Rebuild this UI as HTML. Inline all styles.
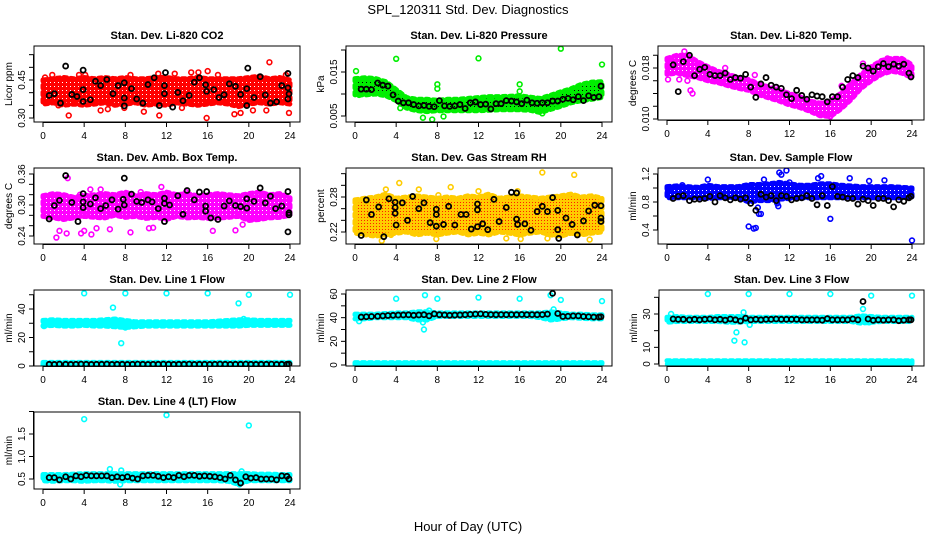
<!DOCTYPE html>
<html><head><meta charset="utf-8"><title>SPL_120311 Std. Dev. Diagnostics</title>
<style>
html,body{margin:0;padding:0;background:#fff;}
svg{display:block;font-family:"Liberation Sans",Arial,sans-serif;}
</style></head>
<body>
<svg id="chart" width="936" height="540" viewBox="0 0 936 540" xmlns="http://www.w3.org/2000/svg">
<defs>
<pattern id="pat-red" width="4" height="4" patternUnits="userSpaceOnUse"><rect width="4" height="4" fill="#ff0000"/><rect x="2" y="2" width="1" height="1" fill="#fff"/></pattern>
<pattern id="pat-green" width="4" height="4" patternUnits="userSpaceOnUse"><rect width="4" height="4" fill="#00ee00"/><rect x="2" y="2" width="1" height="1" fill="#000"/></pattern>
<pattern id="pat-magenta" width="4" height="4" patternUnits="userSpaceOnUse"><rect width="4" height="4" fill="#ff00ff"/><rect x="2" y="2" width="1" height="1" fill="#fff"/></pattern>
<pattern id="pat-orange" width="3" height="3" patternUnits="userSpaceOnUse"><rect width="3" height="3" fill="#ffcc00"/><rect x="1" y="1" width="1" height="1" fill="#ff2000"/></pattern>
<pattern id="pat-blue" width="4" height="4" patternUnits="userSpaceOnUse"><rect width="4" height="4" fill="#0000ff"/><rect x="2" y="2" width="1" height="1" fill="#fff"/></pattern>
<pattern id="pat-cyan" width="4" height="4" patternUnits="userSpaceOnUse"><rect width="4" height="4" fill="#00ffff"/></pattern>
</defs>
<text x="468" y="14" font-size="13" text-anchor="middle">SPL_120311  Std. Dev. Diagnostics</text>
<text x="468" y="531" font-size="13" text-anchor="middle">Hour of Day (UTC)</text>
</svg>
<script>
// ---------- data ----------
const bandHours = [0,1,2,3,4,5,6,7,8,9,10,11,12,13,14,15,16,17,18,19,20,21,22,23,24];
const xTicks = [0,4,8,12,16,20,24];
const blackHours = [0.6,1.1,1.6,2.2,2.7,3.2,3.7,4.2,4.7,5.2,5.7,6.2,6.7,7.2,7.7,8.2,8.7,9.2,9.7,10.2,10.7,11.2,11.7,12.2,12.7,13.2,13.7,14.2,14.7,15.2,15.7,16.2,16.7,17.2,17.7,18.2,18.7,19.2,19.7,20.2,20.7,21.2,21.7,22.2,22.7,23.2,23.7,23.9];

// CO2
const co2Lo = [0.355,0.36,0.35,0.355,0.35,0.355,0.36,0.35,0.355,0.36,0.35,0.355,0.35,0.36,0.355,0.35,0.355,0.36,0.355,0.345,0.355,0.36,0.355,0.36,0.355];
const co2Hi = [0.45,0.455,0.46,0.455,0.46,0.455,0.46,0.455,0.46,0.455,0.455,0.46,0.46,0.455,0.455,0.46,0.455,0.455,0.455,0.455,0.46,0.465,0.455,0.46,0.45];
const co2OutX = [0.2,0.9,2.5,3.5,4.1,5.6,6.3,7.9,9.8,11.3,11.2,12.8,14.4,15.1,15.9,16,17,19.2,18.6,20.4,21.7,22,23.9,23.6,1.5,8.5,13.5];
const co2OutY = [0.46,0.47,0.31,0.47,0.47,0.33,0.335,0.34,0.325,0.31,0.475,0.475,0.48,0.48,0.30,0.485,0.47,0.32,0.315,0.33,0.33,0.52,0.32,0.47,0.35,0.47,0.34];
const co2BlackX = [0.6,1.1,2.2,1.7,2.8,3.3,3.9,3.9,3.9,4.6,5.1,5.6,6.2,6.8,7.3,7.9,7.9,7.9,8.6,9.1,9.7,10.2,10.8,11.3,11.9,11.8,11.8,12.6,13.1,13.6,14.2,14.7,15.2,15.8,15.9,16.6,17.1,17.6,18.1,18.7,19.2,19.9,19.8,19.8,20.5,21.1,21.6,22.1,22.7,23.2,23.8,23.8,23.9,23.8];
const co2BlackY = [0.389,0.396,0.505,0.359,0.393,0.385,0.489,0.412,0.365,0.372,0.445,0.428,0.452,0.396,0.428,0.439,0.379,0.348,0.416,0.375,0.359,0.432,0.459,0.349,0.479,0.428,0.396,0.343,0.401,0.368,0.389,0.441,0.459,0.431,0.405,0.412,0.381,0.392,0.435,0.425,0.393,0.497,0.416,0.349,0.381,0.463,0.391,0.359,0.364,0.428,0.476,0.419,0.395,0.375];

// Pressure
const pressLo = [0.0098,0.0098,0.0100,0.0096,0.0085,0.0068,0.0062,0.0060,0.0062,0.0062,0.0062,0.0062,0.0062,0.0063,0.0064,0.0064,0.0064,0.0063,0.0058,0.0065,0.0072,0.0080,0.0085,0.0088,0.0092];
const pressHi = [0.0135,0.0137,0.0135,0.0128,0.0110,0.0092,0.0088,0.0088,0.0086,0.0088,0.0088,0.0090,0.0092,0.0094,0.0094,0.0095,0.0096,0.0093,0.0090,0.0097,0.0105,0.0112,0.0122,0.0127,0.0128];
const pressOutX = [0.1,4,12,20,24,8,8,16,16,6.6,7.5,8.6,0.4,0.6,4.4,18.2];
const pressOutY = [0.0152,0.0180,0.0181,0.0203,0.0167,0.0122,0.0112,0.0122,0.0106,0.0046,0.0042,0.0049,0.0098,0.0100,0.0068,0.0056];
const pressBlackY = [0.0111,0.0111,0.0110,0.0125,0.0120,0.0118,0.0098,0.0084,0.0080,0.0080,0.0076,0.0073,0.0074,0.0072,0.0071,0.0085,0.0073,0.0072,0.0073,0.0076,0.0067,0.0080,0.0082,0.0076,0.0077,0.0066,0.0078,0.0078,0.0085,0.0084,0.0082,0.0078,0.0086,0.0080,0.0079,0.0080,0.0080,0.0084,0.0084,0.0088,0.0090,0.0087,0.0094,0.0085,0.0096,0.0092,0.0094,0.0118];

// Li-820 temperature
const tempLo = [0.0170,0.0172,0.0168,0.0165,0.0160,0.0157,0.0152,0.0148,0.0145,0.0138,0.0133,0.0128,0.0122,0.0118,0.0112,0.0105,0.0104,0.0115,0.0130,0.0148,0.0160,0.0170,0.0175,0.0172,0.0165];
const tempHi = [0.0195,0.0200,0.0200,0.0190,0.0182,0.0175,0.0170,0.0165,0.0162,0.0155,0.0150,0.0145,0.0140,0.0135,0.0128,0.0125,0.0128,0.0140,0.0155,0.0170,0.0182,0.0192,0.0195,0.0195,0.0185];
const tempOutX = [0.1,1.2,2.3,2.5,2.0,4.2,5.7,8.6,10.6,11.3,13.9,16,17.1,19.2,21.6,1.7];
const tempOutY = [0.0162,0.0162,0.0145,0.0140,0.0160,0.0174,0.0180,0.0169,0.0150,0.0142,0.0125,0.0104,0.0152,0.0187,0.0195,0.0206];
const tempBlackY = [0.0185,0.0143,0.0190,0.0200,0.0168,0.0178,0.0181,0.0170,0.0168,0.0168,0.0172,0.0162,0.0165,0.0164,0.0170,0.0150,0.0134,0.0155,0.0165,0.0153,0.0150,0.0148,0.0138,0.0132,0.0145,0.0137,0.0131,0.0138,0.0136,0.0135,0.0127,0.0135,0.0135,0.0150,0.0162,0.0168,0.0165,0.0183,0.0180,0.0175,0.0182,0.0187,0.0182,0.0186,0.0183,0.0186,0.0172,0.0166];

// Amb box temperature
const ambLo = [0.278,0.275,0.272,0.275,0.278,0.276,0.275,0.28,0.276,0.278,0.274,0.276,0.272,0.278,0.275,0.276,0.274,0.275,0.276,0.278,0.27,0.272,0.275,0.276,0.28];
const ambHi = [0.318,0.322,0.32,0.315,0.318,0.32,0.322,0.32,0.325,0.318,0.322,0.32,0.325,0.32,0.322,0.318,0.32,0.322,0.32,0.318,0.322,0.325,0.32,0.322,0.315];
const ambOutX = [1.3,1.6,2.3,3.7,4,4.7,5.2,6.5,8.5,10.3,10.7,16.5,18.7,19.4,2.4,4.6,5.6,11.5,9.5,3.6,13.9];
const ambOutY = [0.237,0.25,0.245,0.245,0.25,0.243,0.255,0.253,0.247,0.255,0.256,0.25,0.251,0.262,0.352,0.33,0.33,0.335,0.325,0.32,0.325];
const ambBlackX = [2.2,7.9,3.9,14,15.2,15.9,21.1,23.8,23.8,0.6,1.1,1.6,2.8,3.4,3.9,3.9,4.6,5.1,5.6,6.1,6.7,7.3,7.8,7.9,8.6,9.1,9.6,10.2,10.6,11.2,11.8,11.8,11.8,12.3,13.1,13.6,14.7,15.8,15.8,16.3,17,17.6,18.1,18.7,19.2,19.8,19.8,20.5,21.6,22.1,22.6,23.2,23.9,23.9];
const ambBlackY = [0.357,0.352,0.322,0.328,0.325,0.326,0.333,0.326,0.248,0.273,0.299,0.309,0.305,0.268,0.306,0.295,0.302,0.314,0.293,0.299,0.310,0.292,0.311,0.300,0.321,0.307,0.305,0.310,0.306,0.293,0.268,0.303,0.313,0.300,0.318,0.282,0.310,0.298,0.288,0.275,0.272,0.298,0.308,0.299,0.297,0.312,0.294,0.307,0.304,0.317,0.293,0.298,0.285,0.281];

// Gas stream RH
const rhLo = [0.218,0.215,0.213,0.215,0.218,0.22,0.215,0.218,0.215,0.218,0.22,0.215,0.218,0.215,0.22,0.218,0.215,0.218,0.22,0.215,0.213,0.218,0.215,0.218,0.22];
const rhHi = [0.275,0.278,0.28,0.285,0.278,0.28,0.282,0.28,0.278,0.28,0.278,0.282,0.28,0.285,0.278,0.28,0.282,0.28,0.278,0.28,0.282,0.285,0.28,0.282,0.278];
const rhOutX = [3,4.3,6.2,9.3,12,15.8,18.2,21.3,2.6,7.9,14.7,16.1,18.7,22.8,0.1,0.2,8.1,3.5];
const rhOutY = [0.293,0.304,0.293,0.297,0.290,0.290,0.322,0.318,0.205,0.208,0.209,0.208,0.209,0.207,0.273,0.240,0.283,0.215];
const rhBlackX = [0.6,1.1,1.6,2.3,2.8,3.3,3.9,3.9,3.9,4,4.6,5.1,5.6,6.2,6.7,7.3,7.9,7.9,7.9,8.6,9.1,9.7,10.3,10.8,11.3,11.9,11.9,11.9,12.4,12.9,13.5,14,14.7,15.2,15.7,15.7,15.8,16.5,17.1,17.7,18.2,18.7,19.2,19.7,19.7,19.8,20.5,21.1,21.6,22.2,22.7,23.3,23.9,23.9,23.9];
const rhBlackY = [0.214,0.275,0.250,0.263,0.212,0.277,0.271,0.262,0.252,0.232,0.270,0.240,0.281,0.260,0.270,0.236,0.259,0.250,0.230,0.233,0.264,0.232,0.250,0.250,0.225,0.258,0.229,0.268,0.234,0.224,0.276,0.238,0.262,0.288,0.287,0.242,0.233,0.234,0.223,0.255,0.264,0.255,0.279,0.257,0.224,0.209,0.244,0.233,0.215,0.239,0.256,0.266,0.265,0.238,0.244];

// Sample flow
const flowLo = [0.86,0.86,0.86,0.86,0.85,0.86,0.86,0.86,0.80,0.82,0.82,0.84,0.85,0.86,0.86,0.86,0.86,0.86,0.86,0.86,0.86,0.86,0.86,0.86,0.86];
const flowHi = [1.02,1.03,1.02,1.01,1.04,1.02,1.02,1.02,1.05,1.05,1.06,1.08,1.06,1.04,1.04,1.06,1.06,1.04,1.03,1.02,1.02,1.02,1.02,1.01,1.00];
const flowOutX = [8,8.5,8.7,9,9.2,8.9,10.9,11,11.2,11.7,12,15.1,14.8,16,24,4,19.8,21.3,17.9,10.8,9.5,0.1,1.5];
const flowOutY = [0.45,0.42,0.43,0.63,0.63,0.72,0.74,1.22,1.19,1.25,1.08,1.17,1.14,0.56,0.25,1.12,1.10,1.11,1.14,0.78,1.12,0.95,1.04];
const flowBlackY = [0.85,0.88,0.89,0.82,0.84,0.84,0.85,0.88,0.80,0.89,0.86,0.83,0.86,0.84,0.86,0.78,0.68,0.91,0.87,0.89,0.82,0.89,0.88,0.83,0.85,0.86,0.89,0.85,0.76,0.89,0.75,1.02,0.88,0.87,0.85,0.85,0.77,0.84,0.82,0.75,0.85,0.85,0.82,0.73,0.83,0.81,0.86,0.88];

// Line 1 flow
const l1UpLo = [28,28.5,28,28,28.5,28,28,27.5,27,27.5,28,28,28,28,28,28,28,28,28,28,28.5,28.5,28.5,28.5,28.5];
const l1UpHi = [32,32.5,32,32,32,32,32.5,33,32,31,31,31,31,31,31,31,31,31.5,32,32.5,32.5,32,32,32,32];
const l1LowLo = [0,0,0,0,0,0,0,0,0,0,0,0,0,0,0,0,0,0,0,0,0,0,0,0,0];
const l1LowHi = [2.5,2.5,2.5,2.5,2.5,2.5,2.5,2.5,2.5,2.5,2.5,2.5,2.5,2.5,2.5,2.5,2.5,2.5,2.5,2.5,2.5,2.5,2.5,2.5,2.5];
const l1OutX = [4,8,12,16,20,24,6.8,19,7.6,8,0.1,19.5];
const l1OutY = [51,51,51,51,50,50,41,44,16,27,28,33];
const l1BlackY = [1.2,1.1,1.3,1.2,1.1,1.2,1.3,1.2,1.1,1.2,1.2,1.3,1.1,1.2,1.2,1.1,1.2,1.3,1.2,1.1,1.2,1.2,1.3,1.2,1.1,1.2,1.2,1.3,1.1,1.2,1.2,1.1,1.2,1.3,1.2,1.1,1.2,1.2,1.3,1.2,1.1,1.2,1.2,1.3,1.1,1.2,1.2,1.3];

// Line 2 flow
const l2UpLo = [39,39,40,40,40,40,38,38,41,41,41,41,41,41,41,41,41,41,40,38,39,40,39.5,39,39];
const l2UpHi = [43,43,43,43.5,44,44,45,45,44,44,44,44,44,44,44,44,44,44,44,45,44,43,43,42.5,42.5];
const l2LowLo = [0,0,0,0,0,0,0,0,0,0,0,0,0,0,0,0,0,0,0,0,0,0,0,0,0];
const l2LowHi = [2,2,2,2,2,2,2,2,2,2,2,2,2,2,2,2,2,2,2,2,2,2,2,2,2];
const l2OutX = [4,6.8,8,12,16,20,24,19,6.7,6.6,0.4,7.2,19.3,19.6];
const l2OutY = [56,59,56,57,56,55,54,59,30,36,37,46,47,39];
const l2BlackY = [40.5,40.8,41,41.2,41.5,41.8,42,42.2,42.3,42.4,42,42.3,42.5,41.5,43.2,42.5,42.3,42,42.2,42.3,42.5,42.8,43,43.2,42.8,42.6,42.5,42.6,42.5,42.6,42.5,42.7,42.5,42.6,42.5,42.6,43,60.5,43.5,41,41.2,41.5,41.5,41,40.8,40.5,40.5,40.8];

// Line 3 flow
const l3UpLo = [25,25.5,25.5,25.5,25.5,25.5,25,25,25.5,25.5,25.5,25.5,25.5,25.5,25.5,25.5,25.5,25.5,25.5,24.5,25,25.5,25.5,25.5,25.5];
const l3UpHi = [28,28.5,28,28,28,28.5,28.5,28.5,28,28,28,28,28,28,28,28,28,28,28,29,28.5,28,28,28,28];
const l3LowLo = [0,0,0,0,0,0,0,0,0,0,0,0,0,0,0,0,0,0,0,0,0,0,0,0,0];
const l3LowHi = [2,2,2,2,2,2,2,2,2,2,2,2,2,2,2,2,2,2,2,2,2,2,2,2,2];
const l3OutX = [4,8,12,16,20,24,19.2,0.4,7.5,6.6,6.8,7.6,8.1,19.8];
const l3OutY = [42,42,42,42,41,41,33,30,31,14,19,13,23.5,25];
const l3BlackY = [27,26.8,26.8,26.5,26.8,26.5,26.8,27,26.5,26.8,26.3,27,26.5,25.8,27.5,26.5,26.8,26.5,26.8,26.8,27,26.8,26.8,26.8,26.8,26.5,26.5,26.5,26.5,26.3,27.2,26.5,26.5,26.5,26.5,27,26.5,37.5,27,26.2,26.5,26.3,26.5,26.5,26,26.3,26.5,26.5];

// Line 4 (LT) flow
const l4Lo = [0.46,0.45,0.46,0.46,0.45,0.46,0.46,0.45,0.46,0.46,0.46,0.46,0.46,0.46,0.46,0.46,0.46,0.46,0.45,0.38,0.46,0.46,0.46,0.46,0.46];
const l4Hi = [0.60,0.60,0.60,0.61,0.62,0.62,0.62,0.62,0.62,0.62,0.62,0.62,0.62,0.62,0.62,0.62,0.62,0.62,0.62,0.62,0.62,0.61,0.61,0.60,0.60];
const l4OutX = [4,12,20,6.5,7.6,7.5,19.1,19.3];
const l4OutY = [1.83,1.92,1.69,0.72,0.69,0.38,0.38,0.67];
const l4BlackY = [0.53,0.53,0.48,0.55,0.50,0.57,0.55,0.58,0.57,0.57,0.57,0.57,0.53,0.55,0.53,0.55,0.52,0.50,0.57,0.58,0.58,0.56,0.53,0.55,0.53,0.58,0.55,0.58,0.58,0.56,0.57,0.56,0.55,0.53,0.50,0.58,0.48,0.41,0.55,0.52,0.53,0.50,0.50,0.50,0.48,0.57,0.56,0.50];

// ---------- layout ----------
const NS = "http://www.w3.org/2000/svg";
const svg = document.getElementById('chart');
function mk(tag, attrs, parent) {
  const e = document.createElementNS(NS, tag);
  for (const k in attrs) e.setAttribute(k, attrs[k]);
  (parent || svg).appendChild(e);
  return e;
}

const panels = [
 {name:'co2', title:'Stan. Dev. Li-820 CO2', ylab:'Licor ppm', box:[34,46,300,122], xpx:[43,290], ymap:[0.30,118,0.45,80],
  yticks:[0.30,0.35,0.40,0.45,0.50,0.55], ylabels:['0.30','','','0.45','',''], color:'#ff0000', pat:'pat-red',
  bands:[[co2Lo,co2Hi]], outX:co2OutX, outY:co2OutY, bX:co2BlackX, bY:co2BlackY},
 {name:'pressure', title:'Stan. Dev. Li-820 Pressure', ylab:'kPa', box:[346,46,612,122], xpx:[355,602], ymap:[0.005,116,0.015,72],
  yticks:[0.005,0.010,0.015,0.020], ylabels:['0.005','','0.015',''], color:'#00ee00', pat:'pat-green',
  bands:[[pressLo,pressHi]], outX:pressOutX, outY:pressOutY, bX:blackHours, bY:pressBlackY},
 {name:'li820-temp', title:'Stan. Dev. Li-820 Temp.', ylab:'degrees C', box:[658,46,924,120], xpx:[667,912], ymap:[0.010,119,0.018,68],
  yticks:[0.010,0.012,0.014,0.016,0.018,0.020], ylabels:['0.010','','','','0.018',''], color:'#ff00ff', pat:'pat-magenta',
  bands:[[tempLo,tempHi]], outX:tempOutX, outY:tempOutY, bX:blackHours, bY:tempBlackY},
 {name:'amb-box-temp', title:'Stan. Dev. Amb. Box Temp.', ylab:'degrees C', box:[34,168,300,244], xpx:[43,290], ymap:[0.24,236,0.36,174],
  yticks:[0.24,0.26,0.28,0.30,0.32,0.34,0.36], ylabels:['0.24','','','0.30','','','0.36'], color:'#ff00ff', pat:'pat-magenta',
  bands:[[ambLo,ambHi]], outX:ambOutX, outY:ambOutY, bX:ambBlackX, bY:ambBlackY},
 {name:'gas-stream-rh', title:'Stan. Dev. Gas Stream RH', ylab:'percent', box:[346,168,612,244], xpx:[355,602], ymap:[0.22,232,0.28,197],
  yticks:[0.22,0.24,0.26,0.28,0.30,0.32], ylabels:['0.22','','','0.28','',''], color:'#ffcc00', pat:'pat-orange',
  bands:[[rhLo,rhHi]], outX:rhOutX, outY:rhOutY, bX:rhBlackX, bY:rhBlackY},
 {name:'sample-flow', title:'Stan. Dev. Sample Flow', ylab:'ml/min', box:[658,168,924,244], xpx:[667,912], ymap:[0.4,230,1.2,174],
  yticks:[0.4,0.6,0.8,1.0,1.2], ylabels:['0.4','','0.8','','1.2'], color:'#0000ff', pat:'pat-blue',
  bands:[[flowLo,flowHi]], outX:flowOutX, outY:flowOutY, bX:blackHours, bY:flowBlackY},
 {name:'line1-flow', title:'Stan. Dev. Line 1 Flow', ylab:'ml/min', box:[34,290,300,366], xpx:[43,290], ymap:[0,366,40,309],
  yticks:[0,10,20,30,40,50], ylabels:['0','','20','','40',''], color:'#00ffff', pat:'pat-cyan',
  bands:[[l1UpLo,l1UpHi],[l1LowLo,l1LowHi]], outX:l1OutX, outY:l1OutY, bX:blackHours, bY:l1BlackY},
 {name:'line2-flow', title:'Stan. Dev. Line 2 Flow', ylab:'ml/min', box:[346,290,612,366], xpx:[355,602], ymap:[0,365,60,294],
  yticks:[0,10,20,30,40,50,60], ylabels:['0','','20','','40','','60'], color:'#00ffff', pat:'pat-cyan',
  bands:[[l2UpLo,l2UpHi],[l2LowLo,l2LowHi]], outX:l2OutX, outY:l2OutY, bX:blackHours, bY:l2BlackY},
 {name:'line3-flow', title:'Stan. Dev. Line 3 Flow', ylab:'ml/min', box:[659,290,924,366], xpx:[667,912], ymap:[0,364,30,314],
  yticks:[0,10,20,30,40], ylabels:['0','10','','30',''], color:'#00ffff', pat:'pat-cyan',
  bands:[[l3UpLo,l3UpHi],[l3LowLo,l3LowHi]], outX:l3OutX, outY:l3OutY, bX:blackHours, bY:l3BlackY},
 {name:'line4-flow', title:'Stan. Dev. Line 4 (LT) Flow', ylab:'ml/min', box:[34,412,300,489], xpx:[43,290], ymap:[0.5,479,1.5,434],
  yticks:[0.5,1.0,1.5,2.0], ylabels:['0.5','1.0','1.5',''], color:'#00ffff', pat:'pat-cyan',
  bands:[[l4Lo,l4Hi]], outX:l4OutX, outY:l4OutY, bX:blackHours, bY:l4BlackY}
];

panels.forEach(p => {
  const [L,T,R,B] = p.box;
  const xs = h => p.xpx[0] + (h - 0) / 24 * (p.xpx[1] - p.xpx[0]);
  const ys = v => p.ymap[1] + (v - p.ymap[0]) / (p.ymap[2] - p.ymap[0]) * (p.ymap[3] - p.ymap[1]);
  const g = mk('g', {});
  
  
  const clipId = 'clip-' + p.name;
  const cp = mk('clipPath', {id: clipId}, g);
  mk('rect', {x: L, y: T, width: R - L, height: B - T}, cp);
  const plot = mk('g', {'clip-path': 'url(#' + clipId + ')'}, g);
  
  

  p.bands.forEach((bd, bi) => {
    const lo = bd[0], hi = bd[1];
    let d = '';
    bandHours.forEach((h, i) => { d += (i ? 'L' : 'M') + xs(h).toFixed(1) + ',' + ys(hi[i]).toFixed(1); });
    for (let i = bandHours.length - 1; i >= 0; i--) d += 'L' + xs(bandHours[i]).toFixed(1) + ',' + ys(lo[i]).toFixed(1);
    d += 'Z';
    const band = mk('path', {d: d, fill: 'url(#' + p.pat + ')', stroke: p.color, 'stroke-width': 5, 'stroke-linejoin': 'round', 'stroke-linecap': 'round', 'stroke-dasharray': '3 4'}, plot);
    
    
  });
  p.outX.forEach((h, i) => {
    const c = mk('circle', {cx: xs(h), cy: ys(p.outY[i]), r: 2.4, fill: 'none', stroke: p.color, 'stroke-width': 1.6}, plot);
    
    
  });
  p.bX.forEach((h, i) => {
    const c = mk('circle', {cx: xs(h), cy: ys(p.bY[i]), r: 2.5, fill: 'none', stroke: '#000', 'stroke-width': 1.8}, plot);
    
    
  });

  const box = mk('rect', {x: L, y: T, width: R - L, height: B - T, fill: 'none', stroke: '#000', 'stroke-width': 1}, g);
  
  

  mk('line', {x1: xs(0), x2: xs(24), y1: B + 0.5, y2: B + 0.5, stroke: '#000'}, g);
  xTicks.forEach(t => {
    mk('line', {x1: xs(t), x2: xs(t), y1: B, y2: B + 5, stroke: '#000'}, g);
    const tx = mk('text', {x: xs(t), y: B + 17, 'font-size': 10, 'text-anchor': 'middle'}, g);
    tx.textContent = t;
    
    
  });
  const yIn = p.yticks.filter(t => ys(t) >= T - 1 && ys(t) <= B + 1);
  mk('line', {x1: L - 0.5, x2: L - 0.5, y1: ys(yIn[0]), y2: ys(yIn[yIn.length - 1]), stroke: '#000'}, g);
  p.yticks.forEach((t, i) => {
    const y = ys(t);
    if (y < T - 1 || y > B + 1) return;
    mk('line', {x1: L - 5, x2: L, y1: y, y2: y, stroke: '#000'}, g);
    if (p.ylabels[i]) {
      const tx = mk('text', {x: L - 9, y: y, 'font-size': 10, 'text-anchor': 'middle', transform: 'rotate(-90 ' + (L - 9) + ' ' + y + ')'}, g);
      tx.textContent = p.ylabels[i];
      
      
    }
  });
  const yt = mk('text', {x: L - 22, y: (T + B) / 2, 'font-size': 10, 'text-anchor': 'middle', transform: 'rotate(-90 ' + (L - 22) + ' ' + ((T + B) / 2) + ')'}, g);
  yt.textContent = p.ylab;
  
  
  const tt = mk('text', {x: (L + R) / 2, y: T - 7, 'font-size': 11, 'font-weight': 'bold', 'text-anchor': 'middle'}, g);
  tt.textContent = p.title;
  
  
});
</script>
</body></html>
